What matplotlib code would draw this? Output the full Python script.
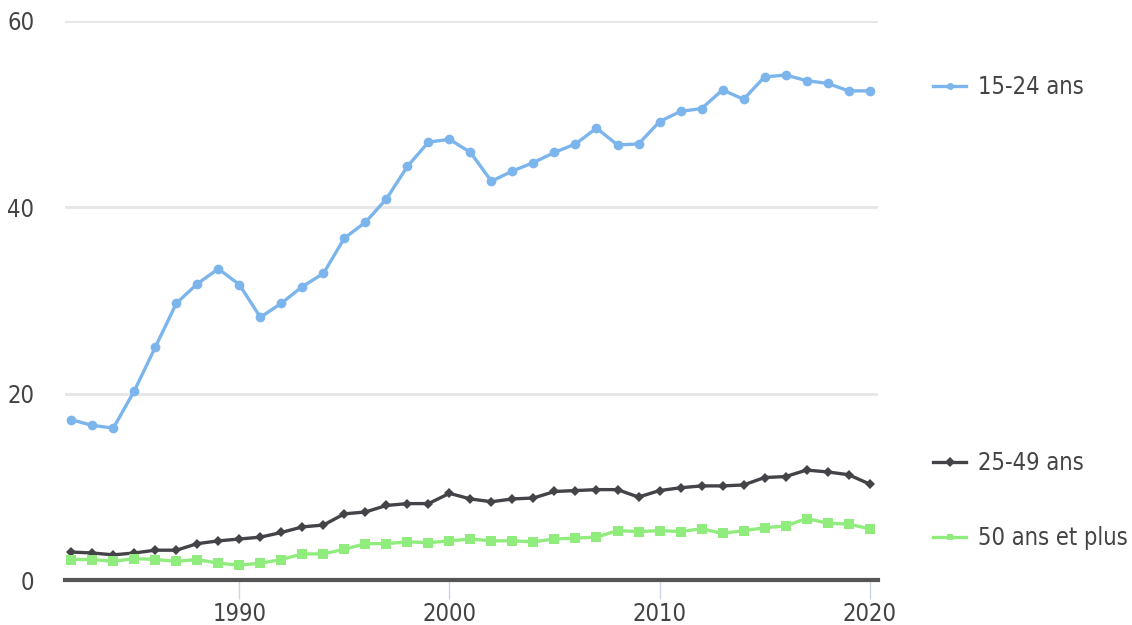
#!/usr/bin/env python3

import matplotlib
matplotlib.use("Agg")
import matplotlib.pyplot as plt
from matplotlib.lines import Line2D

years = list(range(1982, 2021))

jeunes_15_24 = [
    17.2, 16.6, 16.3, 20.3, 25.0, 29.7, 31.8, 33.4, 31.7, 28.2,
    29.7, 31.5, 32.9, 36.7, 38.4, 40.9, 44.4, 47.0, 47.3, 45.9,
    42.8, 43.9, 44.8, 45.9, 46.8, 48.5, 46.7, 46.8, 49.2, 50.3,
    50.6, 52.6, 51.6, 54.0, 54.2, 53.6, 53.3, 52.5, 52.5,
]
adultes_25_49 = [
    3.0, 2.9, 2.7, 2.9, 3.2, 3.2, 3.9, 4.2, 4.4, 4.6,
    5.1, 5.7, 5.9, 7.1, 7.3, 8.0, 8.2, 8.2, 9.3, 8.7,
    8.4, 8.7, 8.8, 9.5, 9.6, 9.7, 9.7, 8.9, 9.6, 9.9,
    10.1, 10.1, 10.2, 11.0, 11.1, 11.8, 11.6, 11.3, 10.3,
]
seniors_50_plus = [
    2.2, 2.2, 2.0, 2.3, 2.2, 2.0, 2.2, 1.8, 1.6, 1.8,
    2.2, 2.8, 2.8, 3.3, 3.9, 3.9, 4.1, 4.0, 4.2, 4.4,
    4.2, 4.2, 4.1, 4.4, 4.5, 4.6, 5.3, 5.2, 5.3, 5.2,
    5.5, 5.0, 5.3, 5.6, 5.8, 6.6, 6.1, 6.0, 5.5,
]

series_labels = ["15-24 ans", "25-49 ans", "50 ans et plus"]
x_ticks = [1990, 2000, 2010, 2020]
y_ticks = [0, 20, 40, 60]

colors = ["#7cb5ec", "#434348", "#90ed7d"]
markers = ["o", "D", "s"]
marker_sizes = [7, 5.5, 6.5]

text_color = "#444444"
font = dict(family="DejaVu Sans", stretch="condensed")

W, H = 1132, 625
fig = plt.figure(figsize=(W / 100, H / 100), dpi=100)
ax = fig.add_axes([65 / W, 1 - 580 / H, (878 - 65) / W, (580 - 21) / H])

all_series = [jeunes_15_24, adultes_25_49, seniors_50_plus]
for values, color, marker, ms in zip(all_series, colors, markers, marker_sizes):
    ax.plot(years, values, color=color, linewidth=2.4, marker=marker,
            markersize=ms, markeredgewidth=0, clip_on=False, zorder=3)

ax.set_xlim(1981.7, 2020.4)
ax.set_ylim(0, 60)
ax.set_xticks(x_ticks)
ax.set_yticks(y_ticks)
ax.set_xticklabels([str(t) for t in x_ticks], color=text_color, fontsize=17, **font)
ax.set_yticklabels([str(t) for t in y_ticks], color=text_color, fontsize=17, **font)

for side in ["top", "right", "left"]:
    ax.spines[side].set_visible(False)
ax.spines["bottom"].set_color("#555555")
ax.spines["bottom"].set_linewidth(3)
ax.spines["bottom"].set_zorder(2)

ax.tick_params(axis="x", length=14, width=1, color="#ccd6eb", pad=1.5)
ax.tick_params(axis="y", length=0, pad=22)

ax.grid(axis="y", color="#e6e6e6", linewidth=2)
ax.set_axisbelow(True)

# legend entries sit next to the end of each line
legend_y = [87, 463, 538]
for label, color, marker, ypix in zip(series_labels, colors, markers, legend_y):
    handle = Line2D([], [], color=color, linewidth=2.4, marker=marker,
                    markersize=5, markeredgewidth=0)
    fig.legend(handles=[handle], labels=[label], loc="center left",
               bbox_to_anchor=(933 / W, 1 - ypix / H), frameon=False,
               borderpad=0, borderaxespad=0, handlelength=1.4,
               handletextpad=0.5, labelcolor=text_color,
               prop=dict(size=17, **font))

fig.savefig("out.png", dpi=100)
